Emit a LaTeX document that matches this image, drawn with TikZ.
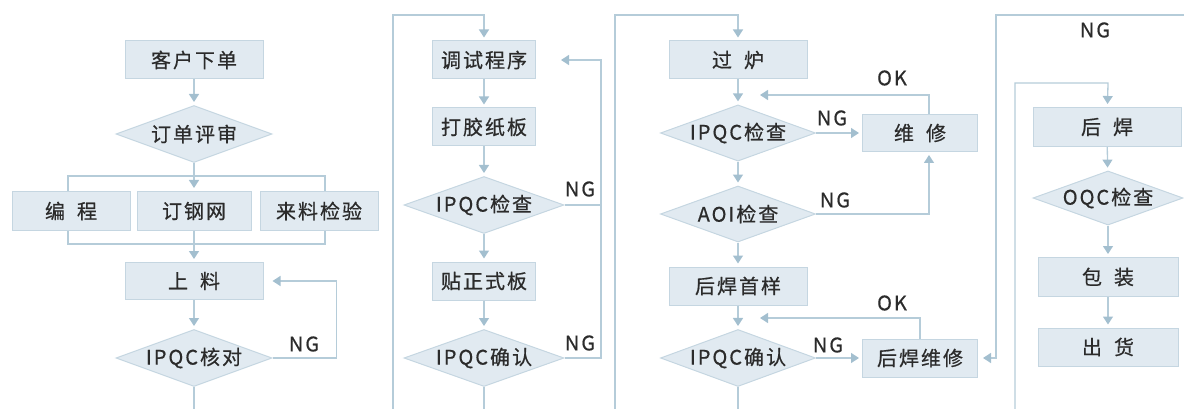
\documentclass[tikz,border=0pt]{standalone}
\usepackage{fontspec}
\setmainfont{Noto Sans CJK SC}[LetterSpace=10, FakeBold=0.6]
\usetikzlibrary{shapes.geometric,arrows.meta}

\definecolor{boxfill}{HTML}{E1EAF1}
\definecolor{boxline}{HTML}{C5D6E1}
\definecolor{flow}{HTML}{B5CCD9}
\definecolor{tipcol}{HTML}{A3BFCF}
\definecolor{ink}{HTML}{2B2B2B}

\tikzset{
  box/.style={rectangle, draw=boxline, fill=boxfill, line width=1pt,
    minimum width=138pt, minimum height=38pt, inner sep=0pt,
    text=ink, font=\fontsize{20}{23}\selectfont},
  check/.style={diamond, aspect=2.7, draw=boxline, fill=boxfill, line width=1pt,
    minimum width=156pt, minimum height=57pt, inner sep=0pt,
    text=ink, font=\fontsize{20}{23}\selectfont},
  flowline/.style={draw=flow, line width=1.3pt},
  flowarrow/.style={flowline, -{Triangle[width=10pt,length=8pt,color=tipcol]}, shorten >=3pt},
  tag/.style={text=ink, font=\fontsize{20}{23}\selectfont}
}

\begin{document}
\begin{tikzpicture}[x=1pt,y=-1pt]
\useasboundingbox (0,0) rectangle (1184,409);

% column 1
\node[box] (order) at (194,60) {客户下单};
\node[check] (review) at (194,134) {订单评审};
\node[box, minimum width=118pt, minimum height=39pt] (prog) at (71,211) {编\hspace{0.6em}程};
\node[box, minimum width=114pt, minimum height=39pt] (stencil) at (194,211) {订钢网};
\node[box, minimum width=118pt, minimum height=39pt] (incoming) at (319,211) {来料检验};
\node[box, minimum height=37pt] (load) at (194,281) {上\hspace{0.6em}料};
\node[check] (ipqcA) at (194,358) {IPQC核对};
\coordinate (split) at (194,176);
\coordinate (merge) at (194,244);
\coordinate (endA) at (194,409);

\draw[flowarrow] (order) -- (review);
\draw[flowline] (review) -- (split);
\draw[flowarrow] (split) -- (stencil);
\draw[flowline] ([xshift=-3pt]prog.north) |- (split) -| ([xshift=6pt]incoming.north);
\draw[flowline] ([xshift=-3pt]prog.south) |- (merge) -| ([xshift=6pt]incoming.south);
\draw[flowline] (stencil) -- (merge);
\draw[flowarrow] (merge) -- (load);
\draw[flowarrow] (load) -- (ipqcA);
\draw[flowarrow, shorten >=9pt] (ipqcA.east) -- ++(64,0) |- (load.east);
\node[tag] (ngA) at (304,344) {NG};
\draw[flowline] (ipqcA) -- (endA);

% column 2
\coordinate (linkA) at (393,409);
\coordinate (topB) at (484,15);
\node[box, minimum width=103pt] (debug) at (484,60) {调试程序};
\node[box, minimum width=103pt] (tape) at (484,127) {打胶纸板};
\node[check, minimum width=160pt] (ipqcB) at (484,205) {IPQC检查};
\node[box, minimum width=103pt] (board) at (484,281) {贴正式板};
\node[check, minimum width=160pt] (ipqcC) at (484,358) {IPQC确认};
\coordinate (backB) at (601,60);
\coordinate (endB) at (484,409);

\draw[flowarrow] (linkA) |- (topB) -- (debug);
\draw[flowarrow] (debug) -- (tape);
\draw[flowarrow] (tape) -- (ipqcB);
\draw[flowarrow] (ipqcB) -- (board);
\draw[flowarrow] (board) -- (ipqcC);
\draw[flowline] (ipqcB.east) -- (ipqcB.east -| backB);
\draw[flowarrow, shorten >=25pt] (ipqcC.east) -| (backB) -- (debug.east);
\node[tag] (ngB) at (580,189) {NG};
\node[tag] (ngC) at (580,343) {NG};
\draw[flowline] (ipqcC) -- (endB);

% column 3
\coordinate (linkB) at (615,409);
\coordinate (topC) at (738,15);
\node[box] (oven) at (738,60) {过\hspace{0.6em}炉};
\node[check, minimum width=155pt, minimum height=56pt] (ipqcD) at (738,133) {IPQC检查};
\node[box, minimum width=115pt, minimum height=37pt] (repair) at (920,133) {维\hspace{0.6em}修};
\node[check, minimum width=155pt, minimum height=56pt] (aoi) at (738,214) {AOI检查};
\node[box] (first) at (738,286) {后焊首样};
\node[check, minimum width=155pt] (ipqcE) at (738,358) {IPQC确认};
\node[box, minimum width=115pt] (rework) at (920,358) {后焊维修};
\coordinate (okA) at (760,95);
\coordinate (okB) at (760,318);
\coordinate (endC) at (738,409);

\draw[flowarrow] (linkB) |- (topC) -- (oven);
\draw[flowarrow] (oven) -- (ipqcD);
\draw[flowarrow] (ipqcD) -- (aoi);
\draw[flowarrow] (aoi) -- (first);
\draw[flowarrow] (first) -- (ipqcE);
\draw[flowarrow] (ipqcD) -- (repair);
\draw[flowarrow] (aoi.east) -| ([xshift=9pt]repair.south);
\draw[flowarrow, shorten >=0pt] ([xshift=9pt]repair.north) |- (okA);
\draw[flowarrow] (ipqcE) -- (rework);
\draw[flowarrow, shorten >=0pt] (rework.north) |- (okB);
\node[tag] (ngD) at (832,118) {NG};
\node[tag] (ngE) at (835,200) {NG};
\node[tag] (ngF) at (828,345) {NG};
\node[tag] (okTagA) at (892,78) {OK};
\node[tag] (okTagB) at (892,303) {OK};
\draw[flowline] (ipqcE) -- (endC);

% NG back from OQC
\coordinate (ngIn) at (1184,15);
\coordinate (ngTurn) at (996,15);
\draw[flowarrow, shorten >=5pt] (ngIn) -- (ngTurn) |- (rework.east);
\node[tag] (ngG) at (1095,30) {NG};

% column 4
\coordinate (linkC) at (1015,409);
\coordinate (topD) at (1108,83);
\node[box, minimum width=148pt, minimum height=39pt] (weld) at (1107,127) {后\hspace{0.6em}焊};
\node[check, minimum width=150pt, minimum height=52pt] (oqc) at (1108,198) {OQC检查};
\node[box, minimum width=140pt, minimum height=39pt] (pack) at (1108,277) {包\hspace{0.6em}装};
\node[box, minimum width=140pt] (ship) at (1108,347) {出\hspace{0.6em}货};

\draw[flowarrow] (linkC) |- (topD) -- (weld);
\draw[flowarrow] (weld) -- (oqc);
\draw[flowarrow] (oqc) -- (pack);
\draw[flowarrow] (pack) -- (ship);
\end{tikzpicture}
\end{document}
